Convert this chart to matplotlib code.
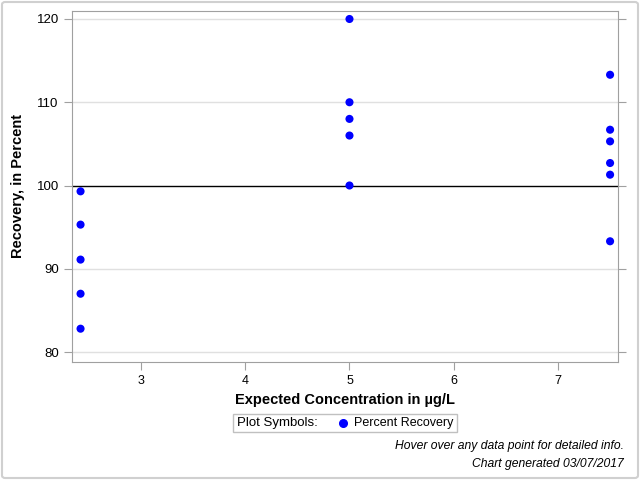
import matplotlib
matplotlib.use("Agg")
import matplotlib.pyplot as plt
from matplotlib.lines import Line2D
from matplotlib.patches import FancyBboxPatch, Rectangle

plt.rcParams['font.family'] = ['Liberation Sans', 'DejaVu Sans']

# concentration levels and recoveries
conc_low = [2.42] * 5
rec_low = [99.3, 95.3, 91.1, 87.0, 82.8]
conc_mid = [5.0] * 5
rec_mid = [120.0, 110.0, 108.0, 106.0, 100.0]
conc_high = [7.5] * 6
rec_high = [113.3, 106.7, 105.3, 102.7, 101.3, 93.3]

xticks = [3, 4, 5, 6, 7]
yticks = [80, 90, 100, 110, 120]

fig = plt.figure(figsize=(6.4, 4.8), dpi=100)
ax = fig.add_axes([72 / 640, 1 - 362 / 480, 546 / 640, 351 / 480])

x = conc_low + conc_mid + conc_high
y = rec_low + rec_mid + rec_high
ax.scatter(x, y, s=34, color='#0000ff', edgecolors='none', zorder=3)

ax.set_xlim(2.338, 7.576)
ax.set_ylim(78.8, 120.96)
ax.set_xticks(xticks)
ax.set_yticks(yticks)
for v in yticks:
    if v != 100:
        ax.axhline(v, color='#e0e0e0', lw=1, zorder=1)
ax.axhline(100, color='black', lw=1, zorder=2)

for s in ax.spines.values():
    s.set_color('#a0a0a0')
ax.tick_params(axis='both', colors='#a0a0a0', labelcolor='black', length=6)
ax.tick_params(axis='y', right=True, labelsize=9.5)
ax.tick_params(axis='x', labelsize=9)

ax.set_xlabel('Expected Concentration in \u00b5g/L', fontsize=10.5, fontweight='bold', labelpad=4)
ax.set_ylabel('Recovery, in Percent', fontsize=10.5, fontweight='bold', labelpad=8)

# legend box drawn by hand (SAS style: title inline with entry)
fig.add_artist(Rectangle((233 / 640, 1 - 432 / 480), 224 / 640, 18 / 480, transform=fig.transFigure,
                         fill=False, edgecolor='#c0c0c0', lw=1))
fig.text(237 / 640, 1 - 423 / 480, 'Plot Symbols:', ha='left', va='center', fontsize=9.5)
fig.add_artist(Line2D([343 / 640], [1 - 423 / 480], transform=fig.transFigure, marker='o', ls='none',
                      color='#0000ff', markersize=5.5))
fig.text(354 / 640, 1 - 423 / 480, 'Percent Recovery', ha='left', va='center', fontsize=9)

fig.text(624 / 640, 1 - 446 / 480, 'Hover over any data point for detailed info.', ha='right', va='center',
         fontsize=8.7, style='italic')
fig.text(624 / 640, 1 - 464 / 480, 'Chart generated 03/07/2017', ha='right', va='center',
         fontsize=8.7, style='italic')

border = FancyBboxPatch((2 / 640, 2 / 480), 636 / 640, 476 / 480, boxstyle='round,pad=0,rounding_size=0.005',
                        transform=fig.transFigure, fill=False, edgecolor='#d0d0d0', lw=1.5)
fig.patches.append(border)

fig.savefig('out.png', dpi=100)
